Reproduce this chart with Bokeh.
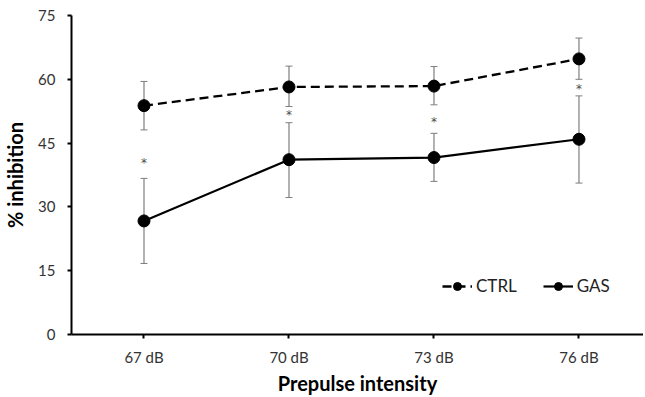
from bokeh.plotting import figure
from bokeh.models import (ColumnDataSource, Whisker, FixedTicker, Range1d, Legend, LegendItem)
from bokeh.core.properties import value
from bokeh.embed import file_html
from bokeh.resources import INLINE

categories = ["67 dB", "70 dB", "73 dB", "76 dB"]
ctrl_mean = [53.8, 58.2, 58.4, 64.8]
ctrl_low = [48.1, 53.6, 54.0, 60.0]
ctrl_high = [59.5, 63.1, 63.0, 69.7]
gas_mean = [26.7, 41.1, 41.6, 45.9]
gas_low = [16.7, 32.2, 36.0, 35.6]
gas_high = [36.7, 49.8, 47.3, 56.1]
sig_y = [40.3, 51.5, 50.0, 57.8]
y_ticks = [0, 15, 30, 45, 60, 75]

FONT = "Lato"
xs = list(range(1, len(categories) + 1))

p = figure(frame_width=572, frame_height=319, output_backend="svg", toolbar_location=None,
           x_range=Range1d(0.5, 4.445), y_range=Range1d(0, 75),
           min_border_left=70, min_border_right=0, min_border_top=15,
           min_border_bottom=55)
p.outline_line_color = None
p.grid.visible = False
p.background_fill_color = "white"

ctrl = ColumnDataSource(dict(x=xs, m=ctrl_mean, lo=ctrl_low, hi=ctrl_high))
gas = ColumnDataSource(dict(x=xs, m=gas_mean, lo=gas_low, hi=gas_high))
sig = ColumnDataSource(dict(x=xs, y=sig_y, t=["*"] * len(xs)))

for src in (ctrl, gas):
    w = Whisker(source=src, base="x", upper="hi", lower="lo",
                line_color="#7f7f7f", line_width=1.2)
    w.upper_head.size = 7
    w.lower_head.size = 7
    w.upper_head.line_color = "#7f7f7f"
    w.lower_head.line_color = "#7f7f7f"
    p.add_layout(w)

l1 = p.line("x", "m", source=ctrl, line_color="black", line_width=2.3, line_dash="9 5")
c1 = p.scatter("x", "m", source=ctrl, size=12, fill_color="black", line_color="black")
l2 = p.line("x", "m", source=gas, line_color="black", line_width=2.2)
c2 = p.scatter("x", "m", source=gas, size=12, fill_color="black", line_color="black")

p.text("x", "y", text="t", source=sig, text_align="center", text_baseline="middle",
       text_font=value("DejaVu Sans"), text_font_size="12px", text_color="#4d4d4d")

p.xaxis.ticker = FixedTicker(ticks=xs)
p.xaxis.major_label_overrides = {x: c for x, c in zip(xs, categories)}
p.yaxis.ticker = FixedTicker(ticks=y_ticks)

for ax in (p.xaxis, p.yaxis):
    ax.axis_line_color = "black"
    ax.axis_line_width = 2
    ax.major_tick_line_color = "black"
    ax.major_tick_line_width = 2
    ax.major_tick_out = 4
    ax.major_tick_in = 0
    ax.minor_tick_line_color = None
    ax.major_label_text_font = FONT
    ax.major_label_text_font_size = "15px"
    ax.major_label_text_color = "#333333"
    ax.axis_label_text_font = FONT
    ax.axis_label_text_font_size = "20px"
    ax.axis_label_text_font_style = "bold"
    ax.axis_label_text_color = "black"

p.xaxis.major_label_standoff = 9
p.yaxis.major_label_standoff = 12
p.xaxis.axis_label = "Prepulse intensity"
p.yaxis.axis_label = "% inhibition"
p.xaxis.axis_label_standoff = 2
p.yaxis.axis_label_standoff = 8

legend = Legend(items=[LegendItem(label="CTRL", renderers=[l1, c1]),
                       LegendItem(label="GAS", renderers=[l2, c2])],
                orientation="horizontal", location=(371, 38),
                border_line_color=None, background_fill_alpha=0,
                padding=0, margin=0, spacing=26, glyph_width=30,
                label_standoff=4, label_text_font=FONT,
                label_text_font_size="17px", label_text_color="#222222")
p.add_layout(legend, "center")

open("out.html", "w").write(file_html(p, INLINE))
